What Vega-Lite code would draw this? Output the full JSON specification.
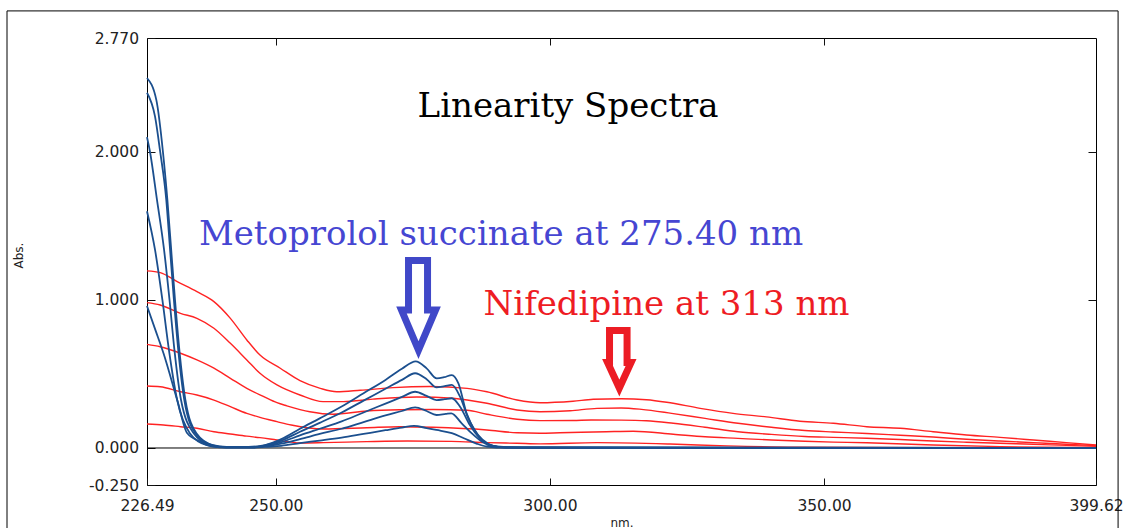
{
  "$schema": "https://vega.github.io/schema/vega-lite/v6.json",
  "width": 949,
  "height": 447,
  "autosize": {"type": "none"},
  "padding": {"left": 147, "top": 38, "right": 31, "bottom": 43},
  "background": "white",
  "config": {
    "view": {"stroke": "black", "strokeWidth": 1},
    "axis": {
      "grid": false,
      "domain": false,
      "labelFont": "DejaVu Sans",
      "labelFontSize": 15.5,
      "labelColor": "#222222",
      "tickColor": "#111111",
      "titleFont": "DejaVu Sans",
      "titleFontWeight": "normal",
      "titleColor": "#222222",
      "titleFontSize": 12
    }
  },
  "resolve": {"axis": {"x": "independent", "y": "independent"}},
  "datasets": {
    "spectra": [
      {"series":"R1","drug":"Nifedipine","nm":226.49,"abs":1.197},
      {"series":"R1","drug":"Nifedipine","nm":228.9,"abs":1.185},
      {"series":"R1","drug":"Nifedipine","nm":232.0,"abs":1.124},
      {"series":"R1","drug":"Nifedipine","nm":235.6,"abs":1.056},
      {"series":"R1","drug":"Nifedipine","nm":238.7,"abs":0.989},
      {"series":"R1","drug":"Nifedipine","nm":241.7,"abs":0.876},
      {"series":"R1","drug":"Nifedipine","nm":244.7,"abs":0.73},
      {"series":"R1","drug":"Nifedipine","nm":247.1,"abs":0.628},
      {"series":"R1","drug":"Nifedipine","nm":250.8,"abs":0.539},
      {"series":"R1","drug":"Nifedipine","nm":254.4,"abs":0.455},
      {"series":"R1","drug":"Nifedipine","nm":258.1,"abs":0.403},
      {"series":"R1","drug":"Nifedipine","nm":261.1,"abs":0.38},
      {"series":"R1","drug":"Nifedipine","nm":265.4,"abs":0.39},
      {"series":"R1","drug":"Nifedipine","nm":271.4,"abs":0.408},
      {"series":"R1","drug":"Nifedipine","nm":278.1,"abs":0.415},
      {"series":"R1","drug":"Nifedipine","nm":284.9,"abs":0.403},
      {"series":"R1","drug":"Nifedipine","nm":288.5,"abs":0.38},
      {"series":"R1","drug":"Nifedipine","nm":294.0,"abs":0.324},
      {"series":"R1","drug":"Nifedipine","nm":298.2,"abs":0.306},
      {"series":"R1","drug":"Nifedipine","nm":304.2,"abs":0.316},
      {"series":"R1","drug":"Nifedipine","nm":307.9,"abs":0.329},
      {"series":"R1","drug":"Nifedipine","nm":313.0,"abs":0.333},
      {"series":"R1","drug":"Nifedipine","nm":317.6,"abs":0.326},
      {"series":"R1","drug":"Nifedipine","nm":321.3,"abs":0.309},
      {"series":"R1","drug":"Nifedipine","nm":327.4,"abs":0.268},
      {"series":"R1","drug":"Nifedipine","nm":333.4,"abs":0.234},
      {"series":"R1","drug":"Nifedipine","nm":339.5,"abs":0.21},
      {"series":"R1","drug":"Nifedipine","nm":345.6,"abs":0.181},
      {"series":"R1","drug":"Nifedipine","nm":351.7,"abs":0.167},
      {"series":"R1","drug":"Nifedipine","nm":357.8,"abs":0.144},
      {"series":"R1","drug":"Nifedipine","nm":363.9,"abs":0.133},
      {"series":"R1","drug":"Nifedipine","nm":369.9,"abs":0.11},
      {"series":"R1","drug":"Nifedipine","nm":376.0,"abs":0.088},
      {"series":"R1","drug":"Nifedipine","nm":382.1,"abs":0.072},
      {"series":"R1","drug":"Nifedipine","nm":388.2,"abs":0.054},
      {"series":"R1","drug":"Nifedipine","nm":394.2,"abs":0.036},
      {"series":"R1","drug":"Nifedipine","nm":399.62,"abs":0.02},

      {"series":"R2","drug":"Nifedipine","nm":226.49,"abs":0.982},
      {"series":"R2","drug":"Nifedipine","nm":228.9,"abs":0.966},
      {"series":"R2","drug":"Nifedipine","nm":232.6,"abs":0.91},
      {"series":"R2","drug":"Nifedipine","nm":235.6,"abs":0.876},
      {"series":"R2","drug":"Nifedipine","nm":238.7,"abs":0.809},
      {"series":"R2","drug":"Nifedipine","nm":241.7,"abs":0.707},
      {"series":"R2","drug":"Nifedipine","nm":244.7,"abs":0.595},
      {"series":"R2","drug":"Nifedipine","nm":247.1,"abs":0.505},
      {"series":"R2","drug":"Nifedipine","nm":250.2,"abs":0.426},
      {"series":"R2","drug":"Nifedipine","nm":254.4,"abs":0.358},
      {"series":"R2","drug":"Nifedipine","nm":258.6,"abs":0.313},
      {"series":"R2","drug":"Nifedipine","nm":262.3,"abs":0.313},
      {"series":"R2","drug":"Nifedipine","nm":267.7,"abs":0.33},
      {"series":"R2","drug":"Nifedipine","nm":275.7,"abs":0.345},
      {"series":"R2","drug":"Nifedipine","nm":282.3,"abs":0.336},
      {"series":"R2","drug":"Nifedipine","nm":288.5,"abs":0.302},
      {"series":"R2","drug":"Nifedipine","nm":294.0,"abs":0.257},
      {"series":"R2","drug":"Nifedipine","nm":298.2,"abs":0.245},
      {"series":"R2","drug":"Nifedipine","nm":303.7,"abs":0.252},
      {"series":"R2","drug":"Nifedipine","nm":308.6,"abs":0.268},
      {"series":"R2","drug":"Nifedipine","nm":313.0,"abs":0.27},
      {"series":"R2","drug":"Nifedipine","nm":316.7,"abs":0.261},
      {"series":"R2","drug":"Nifedipine","nm":322.2,"abs":0.234},
      {"series":"R2","drug":"Nifedipine","nm":328.3,"abs":0.2},
      {"series":"R2","drug":"Nifedipine","nm":334.3,"abs":0.167},
      {"series":"R2","drug":"Nifedipine","nm":340.4,"abs":0.14},
      {"series":"R2","drug":"Nifedipine","nm":346.5,"abs":0.118},
      {"series":"R2","drug":"Nifedipine","nm":351.7,"abs":0.108},
      {"series":"R2","drug":"Nifedipine","nm":357.8,"abs":0.098},
      {"series":"R2","drug":"Nifedipine","nm":363.9,"abs":0.086},
      {"series":"R2","drug":"Nifedipine","nm":369.9,"abs":0.074},
      {"series":"R2","drug":"Nifedipine","nm":376.0,"abs":0.059},
      {"series":"R2","drug":"Nifedipine","nm":382.1,"abs":0.047},
      {"series":"R2","drug":"Nifedipine","nm":388.2,"abs":0.036},
      {"series":"R2","drug":"Nifedipine","nm":394.2,"abs":0.025},
      {"series":"R2","drug":"Nifedipine","nm":399.62,"abs":0.016},

      {"series":"R3","drug":"Nifedipine","nm":226.49,"abs":0.7},
      {"series":"R3","drug":"Nifedipine","nm":228.9,"abs":0.684},
      {"series":"R3","drug":"Nifedipine","nm":232.6,"abs":0.64},
      {"series":"R3","drug":"Nifedipine","nm":235.6,"abs":0.595},
      {"series":"R3","drug":"Nifedipine","nm":238.7,"abs":0.539},
      {"series":"R3","drug":"Nifedipine","nm":241.7,"abs":0.471},
      {"series":"R3","drug":"Nifedipine","nm":244.7,"abs":0.403},
      {"series":"R3","drug":"Nifedipine","nm":247.8,"abs":0.347},
      {"series":"R3","drug":"Nifedipine","nm":250.2,"abs":0.306},
      {"series":"R3","drug":"Nifedipine","nm":252.0,"abs":0.285},
      {"series":"R3","drug":"Nifedipine","nm":256.2,"abs":0.245},
      {"series":"R3","drug":"Nifedipine","nm":260.4,"abs":0.228},
      {"series":"R3","drug":"Nifedipine","nm":266.6,"abs":0.25},
      {"series":"R3","drug":"Nifedipine","nm":272.6,"abs":0.258},
      {"series":"R3","drug":"Nifedipine","nm":278.7,"abs":0.26},
      {"series":"R3","drug":"Nifedipine","nm":284.9,"abs":0.255},
      {"series":"R3","drug":"Nifedipine","nm":288.5,"abs":0.228},
      {"series":"R3","drug":"Nifedipine","nm":294.0,"abs":0.194},
      {"series":"R3","drug":"Nifedipine","nm":298.2,"abs":0.185},
      {"series":"R3","drug":"Nifedipine","nm":304.2,"abs":0.186},
      {"series":"R3","drug":"Nifedipine","nm":307.5,"abs":0.189},
      {"series":"R3","drug":"Nifedipine","nm":313.0,"abs":0.188},
      {"series":"R3","drug":"Nifedipine","nm":317.6,"abs":0.184},
      {"series":"R3","drug":"Nifedipine","nm":322.5,"abs":0.167},
      {"series":"R3","drug":"Nifedipine","nm":328.3,"abs":0.14},
      {"series":"R3","drug":"Nifedipine","nm":334.3,"abs":0.11},
      {"series":"R3","drug":"Nifedipine","nm":340.4,"abs":0.092},
      {"series":"R3","drug":"Nifedipine","nm":346.5,"abs":0.078},
      {"series":"R3","drug":"Nifedipine","nm":351.7,"abs":0.072},
      {"series":"R3","drug":"Nifedipine","nm":357.8,"abs":0.066},
      {"series":"R3","drug":"Nifedipine","nm":363.9,"abs":0.057},
      {"series":"R3","drug":"Nifedipine","nm":369.9,"abs":0.047},
      {"series":"R3","drug":"Nifedipine","nm":376.0,"abs":0.039},
      {"series":"R3","drug":"Nifedipine","nm":382.1,"abs":0.032},
      {"series":"R3","drug":"Nifedipine","nm":388.2,"abs":0.025},
      {"series":"R3","drug":"Nifedipine","nm":394.2,"abs":0.018},
      {"series":"R3","drug":"Nifedipine","nm":399.62,"abs":0.011},

      {"series":"R4","drug":"Nifedipine","nm":226.49,"abs":0.419},
      {"series":"R4","drug":"Nifedipine","nm":228.9,"abs":0.414},
      {"series":"R4","drug":"Nifedipine","nm":232.6,"abs":0.38},
      {"series":"R4","drug":"Nifedipine","nm":235.6,"abs":0.358},
      {"series":"R4","drug":"Nifedipine","nm":238.7,"abs":0.324},
      {"series":"R4","drug":"Nifedipine","nm":241.7,"abs":0.279},
      {"series":"R4","drug":"Nifedipine","nm":244.7,"abs":0.234},
      {"series":"R4","drug":"Nifedipine","nm":247.1,"abs":0.207},
      {"series":"R4","drug":"Nifedipine","nm":250.2,"abs":0.178},
      {"series":"R4","drug":"Nifedipine","nm":252.8,"abs":0.155},
      {"series":"R4","drug":"Nifedipine","nm":258.6,"abs":0.128},
      {"series":"R4","drug":"Nifedipine","nm":266.6,"abs":0.137},
      {"series":"R4","drug":"Nifedipine","nm":272.6,"abs":0.144},
      {"series":"R4","drug":"Nifedipine","nm":278.7,"abs":0.14},
      {"series":"R4","drug":"Nifedipine","nm":288.5,"abs":0.122},
      {"series":"R4","drug":"Nifedipine","nm":294.0,"abs":0.103},
      {"series":"R4","drug":"Nifedipine","nm":298.2,"abs":0.1},
      {"series":"R4","drug":"Nifedipine","nm":301.8,"abs":0.103},
      {"series":"R4","drug":"Nifedipine","nm":310.3,"abs":0.11},
      {"series":"R4","drug":"Nifedipine","nm":315.2,"abs":0.113},
      {"series":"R4","drug":"Nifedipine","nm":322.5,"abs":0.093},
      {"series":"R4","drug":"Nifedipine","nm":328.3,"abs":0.076},
      {"series":"R4","drug":"Nifedipine","nm":334.3,"abs":0.065},
      {"series":"R4","drug":"Nifedipine","nm":340.4,"abs":0.054},
      {"series":"R4","drug":"Nifedipine","nm":346.5,"abs":0.046},
      {"series":"R4","drug":"Nifedipine","nm":351.7,"abs":0.04},
      {"series":"R4","drug":"Nifedipine","nm":357.8,"abs":0.035},
      {"series":"R4","drug":"Nifedipine","nm":369.9,"abs":0.02},
      {"series":"R4","drug":"Nifedipine","nm":382.1,"abs":0.009},
      {"series":"R4","drug":"Nifedipine","nm":399.62,"abs":0.002},

      {"series":"R5","drug":"Nifedipine","nm":226.49,"abs":0.162},
      {"series":"R5","drug":"Nifedipine","nm":229.5,"abs":0.155},
      {"series":"R5","drug":"Nifedipine","nm":232.6,"abs":0.144},
      {"series":"R5","drug":"Nifedipine","nm":235.6,"abs":0.133},
      {"series":"R5","drug":"Nifedipine","nm":238.7,"abs":0.11},
      {"series":"R5","drug":"Nifedipine","nm":241.7,"abs":0.095},
      {"series":"R5","drug":"Nifedipine","nm":244.7,"abs":0.08},
      {"series":"R5","drug":"Nifedipine","nm":247.1,"abs":0.07},
      {"series":"R5","drug":"Nifedipine","nm":250.2,"abs":0.054},
      {"series":"R5","drug":"Nifedipine","nm":254.4,"abs":0.034},
      {"series":"R5","drug":"Nifedipine","nm":258.6,"abs":0.036},
      {"series":"R5","drug":"Nifedipine","nm":266.6,"abs":0.043},
      {"series":"R5","drug":"Nifedipine","nm":274.0,"abs":0.047},
      {"series":"R5","drug":"Nifedipine","nm":282.0,"abs":0.045},
      {"series":"R5","drug":"Nifedipine","nm":288.5,"abs":0.036},
      {"series":"R5","drug":"Nifedipine","nm":294.0,"abs":0.032},
      {"series":"R5","drug":"Nifedipine","nm":298.2,"abs":0.028},
      {"series":"R5","drug":"Nifedipine","nm":308.6,"abs":0.036},
      {"series":"R5","drug":"Nifedipine","nm":321.9,"abs":0.027},
      {"series":"R5","drug":"Nifedipine","nm":332.3,"abs":0.014},
      {"series":"R5","drug":"Nifedipine","nm":345.0,"abs":0.005},
      {"series":"R5","drug":"Nifedipine","nm":360.0,"abs":0.003},
      {"series":"R5","drug":"Nifedipine","nm":380.0,"abs":0.001},
      {"series":"R5","drug":"Nifedipine","nm":399.62,"abs":0.0},

      {"series":"B1","drug":"Metoprolol","nm":226.49,"abs":2.5},
      {"series":"B1","drug":"Metoprolol","nm":228.2,"abs":2.35},
      {"series":"B1","drug":"Metoprolol","nm":229.4,"abs":2.0},
      {"series":"B1","drug":"Metoprolol","nm":230.2,"abs":1.68},
      {"series":"B1","drug":"Metoprolol","nm":230.9,"abs":1.34},
      {"series":"B1","drug":"Metoprolol","nm":231.6,"abs":1.0},
      {"series":"B1","drug":"Metoprolol","nm":232.4,"abs":0.66},
      {"series":"B1","drug":"Metoprolol","nm":233.5,"abs":0.324},
      {"series":"B1","drug":"Metoprolol","nm":235.5,"abs":0.1},
      {"series":"B1","drug":"Metoprolol","nm":238.5,"abs":0.02},
      {"series":"B1","drug":"Metoprolol","nm":241.0,"abs":0.008},
      {"series":"B1","drug":"Metoprolol","nm":245.0,"abs":0.008},
      {"series":"B1","drug":"Metoprolol","nm":248.0,"abs":0.02},
      {"series":"B1","drug":"Metoprolol","nm":251.0,"abs":0.06},
      {"series":"B1","drug":"Metoprolol","nm":254.4,"abs":0.13},
      {"series":"B1","drug":"Metoprolol","nm":258.0,"abs":0.2},
      {"series":"B1","drug":"Metoprolol","nm":262.0,"abs":0.28},
      {"series":"B1","drug":"Metoprolol","nm":266.0,"abs":0.37},
      {"series":"B1","drug":"Metoprolol","nm":270.0,"abs":0.46},
      {"series":"B1","drug":"Metoprolol","nm":273.0,"abs":0.535},
      {"series":"B1","drug":"Metoprolol","nm":275.5,"abs":0.585},
      {"series":"B1","drug":"Metoprolol","nm":277.5,"abs":0.538},
      {"series":"B1","drug":"Metoprolol","nm":279.35,"abs":0.47},
      {"series":"B1","drug":"Metoprolol","nm":280.7,"abs":0.478},
      {"series":"B1","drug":"Metoprolol","nm":282.1,"abs":0.493},
      {"series":"B1","drug":"Metoprolol","nm":283.3,"abs":0.437},
      {"series":"B1","drug":"Metoprolol","nm":284.8,"abs":0.234},
      {"series":"B1","drug":"Metoprolol","nm":286.6,"abs":0.1},
      {"series":"B1","drug":"Metoprolol","nm":288.5,"abs":0.03},
      {"series":"B1","drug":"Metoprolol","nm":290.3,"abs":0.01},
      {"series":"B1","drug":"Metoprolol","nm":295.0,"abs":0.003},
      {"series":"B1","drug":"Metoprolol","nm":399.62,"abs":0.0},

      {"series":"B2","drug":"Metoprolol","nm":226.49,"abs":2.4},
      {"series":"B2","drug":"Metoprolol","nm":227.95,"abs":2.24},
      {"series":"B2","drug":"Metoprolol","nm":228.9,"abs":2.0},
      {"series":"B2","drug":"Metoprolol","nm":230.0,"abs":1.68},
      {"series":"B2","drug":"Metoprolol","nm":230.7,"abs":1.34},
      {"series":"B2","drug":"Metoprolol","nm":231.4,"abs":1.0},
      {"series":"B2","drug":"Metoprolol","nm":232.2,"abs":0.66},
      {"series":"B2","drug":"Metoprolol","nm":233.3,"abs":0.324},
      {"series":"B2","drug":"Metoprolol","nm":235.3,"abs":0.1},
      {"series":"B2","drug":"Metoprolol","nm":238.3,"abs":0.02},
      {"series":"B2","drug":"Metoprolol","nm":241.0,"abs":0.006},
      {"series":"B2","drug":"Metoprolol","nm":246.0,"abs":0.006},
      {"series":"B2","drug":"Metoprolol","nm":248.0,"abs":0.018},
      {"series":"B2","drug":"Metoprolol","nm":251.0,"abs":0.05},
      {"series":"B2","drug":"Metoprolol","nm":254.4,"abs":0.11},
      {"series":"B2","drug":"Metoprolol","nm":258.0,"abs":0.17},
      {"series":"B2","drug":"Metoprolol","nm":262.0,"abs":0.24},
      {"series":"B2","drug":"Metoprolol","nm":266.0,"abs":0.32},
      {"series":"B2","drug":"Metoprolol","nm":270.0,"abs":0.4},
      {"series":"B2","drug":"Metoprolol","nm":273.0,"abs":0.46},
      {"series":"B2","drug":"Metoprolol","nm":275.4,"abs":0.505},
      {"series":"B2","drug":"Metoprolol","nm":277.5,"abs":0.465},
      {"series":"B2","drug":"Metoprolol","nm":279.3,"abs":0.41},
      {"series":"B2","drug":"Metoprolol","nm":280.8,"abs":0.418},
      {"series":"B2","drug":"Metoprolol","nm":282.1,"abs":0.426},
      {"series":"B2","drug":"Metoprolol","nm":283.6,"abs":0.347},
      {"series":"B2","drug":"Metoprolol","nm":285.1,"abs":0.2},
      {"series":"B2","drug":"Metoprolol","nm":286.9,"abs":0.088},
      {"series":"B2","drug":"Metoprolol","nm":288.8,"abs":0.027},
      {"series":"B2","drug":"Metoprolol","nm":290.5,"abs":0.008},
      {"series":"B2","drug":"Metoprolol","nm":295.0,"abs":0.002},
      {"series":"B2","drug":"Metoprolol","nm":399.62,"abs":0.0},

      {"series":"B3","drug":"Metoprolol","nm":226.49,"abs":2.1},
      {"series":"B3","drug":"Metoprolol","nm":227.04,"abs":2.0},
      {"series":"B3","drug":"Metoprolol","nm":228.3,"abs":1.68},
      {"series":"B3","drug":"Metoprolol","nm":229.6,"abs":1.34},
      {"series":"B3","drug":"Metoprolol","nm":230.6,"abs":1.0},
      {"series":"B3","drug":"Metoprolol","nm":231.5,"abs":0.66},
      {"series":"B3","drug":"Metoprolol","nm":232.7,"abs":0.324},
      {"series":"B3","drug":"Metoprolol","nm":235.0,"abs":0.1},
      {"series":"B3","drug":"Metoprolol","nm":238.0,"abs":0.02},
      {"series":"B3","drug":"Metoprolol","nm":241.0,"abs":0.005},
      {"series":"B3","drug":"Metoprolol","nm":246.0,"abs":0.005},
      {"series":"B3","drug":"Metoprolol","nm":248.0,"abs":0.015},
      {"series":"B3","drug":"Metoprolol","nm":251.0,"abs":0.04},
      {"series":"B3","drug":"Metoprolol","nm":254.4,"abs":0.085},
      {"series":"B3","drug":"Metoprolol","nm":258.0,"abs":0.13},
      {"series":"B3","drug":"Metoprolol","nm":262.0,"abs":0.18},
      {"series":"B3","drug":"Metoprolol","nm":266.0,"abs":0.24},
      {"series":"B3","drug":"Metoprolol","nm":270.0,"abs":0.3},
      {"series":"B3","drug":"Metoprolol","nm":273.0,"abs":0.345},
      {"series":"B3","drug":"Metoprolol","nm":275.4,"abs":0.38},
      {"series":"B3","drug":"Metoprolol","nm":277.5,"abs":0.352},
      {"series":"B3","drug":"Metoprolol","nm":279.3,"abs":0.324},
      {"series":"B3","drug":"Metoprolol","nm":280.8,"abs":0.33},
      {"series":"B3","drug":"Metoprolol","nm":282.1,"abs":0.336},
      {"series":"B3","drug":"Metoprolol","nm":283.6,"abs":0.279},
      {"series":"B3","drug":"Metoprolol","nm":285.4,"abs":0.155},
      {"series":"B3","drug":"Metoprolol","nm":287.2,"abs":0.066},
      {"series":"B3","drug":"Metoprolol","nm":289.1,"abs":0.02},
      {"series":"B3","drug":"Metoprolol","nm":292.0,"abs":0.005},
      {"series":"B3","drug":"Metoprolol","nm":399.62,"abs":0.0},

      {"series":"B4","drug":"Metoprolol","nm":226.49,"abs":1.6},
      {"series":"B4","drug":"Metoprolol","nm":227.95,"abs":1.34},
      {"series":"B4","drug":"Metoprolol","nm":229.3,"abs":1.0},
      {"series":"B4","drug":"Metoprolol","nm":230.5,"abs":0.66},
      {"series":"B4","drug":"Metoprolol","nm":232.0,"abs":0.324},
      {"series":"B4","drug":"Metoprolol","nm":234.3,"abs":0.1},
      {"series":"B4","drug":"Metoprolol","nm":237.4,"abs":0.02},
      {"series":"B4","drug":"Metoprolol","nm":241.0,"abs":0.004},
      {"series":"B4","drug":"Metoprolol","nm":246.0,"abs":0.004},
      {"series":"B4","drug":"Metoprolol","nm":248.0,"abs":0.012},
      {"series":"B4","drug":"Metoprolol","nm":251.0,"abs":0.03},
      {"series":"B4","drug":"Metoprolol","nm":254.4,"abs":0.06},
      {"series":"B4","drug":"Metoprolol","nm":258.0,"abs":0.095},
      {"series":"B4","drug":"Metoprolol","nm":262.0,"abs":0.13},
      {"series":"B4","drug":"Metoprolol","nm":266.0,"abs":0.175},
      {"series":"B4","drug":"Metoprolol","nm":270.0,"abs":0.22},
      {"series":"B4","drug":"Metoprolol","nm":273.0,"abs":0.25},
      {"series":"B4","drug":"Metoprolol","nm":275.4,"abs":0.275},
      {"series":"B4","drug":"Metoprolol","nm":277.5,"abs":0.25},
      {"series":"B4","drug":"Metoprolol","nm":279.3,"abs":0.223},
      {"series":"B4","drug":"Metoprolol","nm":281.0,"abs":0.23},
      {"series":"B4","drug":"Metoprolol","nm":282.0,"abs":0.234},
      {"series":"B4","drug":"Metoprolol","nm":283.9,"abs":0.167},
      {"series":"B4","drug":"Metoprolol","nm":285.7,"abs":0.1},
      {"series":"B4","drug":"Metoprolol","nm":287.6,"abs":0.043},
      {"series":"B4","drug":"Metoprolol","nm":289.5,"abs":0.012},
      {"series":"B4","drug":"Metoprolol","nm":292.0,"abs":0.003},
      {"series":"B4","drug":"Metoprolol","nm":399.62,"abs":0.0},

      {"series":"B5","drug":"Metoprolol","nm":226.49,"abs":0.96},
      {"series":"B5","drug":"Metoprolol","nm":228.0,"abs":0.8},
      {"series":"B5","drug":"Metoprolol","nm":229.5,"abs":0.64},
      {"series":"B5","drug":"Metoprolol","nm":232.0,"abs":0.324},
      {"series":"B5","drug":"Metoprolol","nm":233.8,"abs":0.101},
      {"series":"B5","drug":"Metoprolol","nm":236.2,"abs":0.043},
      {"series":"B5","drug":"Metoprolol","nm":238.5,"abs":0.01},
      {"series":"B5","drug":"Metoprolol","nm":241.0,"abs":0.003},
      {"series":"B5","drug":"Metoprolol","nm":246.0,"abs":0.003},
      {"series":"B5","drug":"Metoprolol","nm":248.0,"abs":0.008},
      {"series":"B5","drug":"Metoprolol","nm":251.0,"abs":0.015},
      {"series":"B5","drug":"Metoprolol","nm":254.4,"abs":0.033},
      {"series":"B5","drug":"Metoprolol","nm":258.0,"abs":0.05},
      {"series":"B5","drug":"Metoprolol","nm":262.0,"abs":0.07},
      {"series":"B5","drug":"Metoprolol","nm":266.0,"abs":0.095},
      {"series":"B5","drug":"Metoprolol","nm":270.0,"abs":0.12},
      {"series":"B5","drug":"Metoprolol","nm":273.0,"abs":0.138},
      {"series":"B5","drug":"Metoprolol","nm":275.2,"abs":0.149},
      {"series":"B5","drug":"Metoprolol","nm":277.5,"abs":0.135},
      {"series":"B5","drug":"Metoprolol","nm":279.3,"abs":0.122},
      {"series":"B5","drug":"Metoprolol","nm":282.1,"abs":0.1},
      {"series":"B5","drug":"Metoprolol","nm":284.3,"abs":0.066},
      {"series":"B5","drug":"Metoprolol","nm":286.6,"abs":0.03},
      {"series":"B5","drug":"Metoprolol","nm":288.5,"abs":0.01},
      {"series":"B5","drug":"Metoprolol","nm":292.0,"abs":0.002},
      {"series":"B5","drug":"Metoprolol","nm":399.62,"abs":0.0}
    ],
    "arrows": [
      {"arrow":"blue","i":0,"nm":274.2,"abs":1.267},
      {"arrow":"blue","i":1,"nm":277.67,"abs":1.267},
      {"arrow":"blue","i":2,"nm":277.67,"abs":0.932},
      {"arrow":"blue","i":3,"nm":279.13,"abs":0.932},
      {"arrow":"blue","i":4,"nm":276.02,"abs":0.662},
      {"arrow":"blue","i":5,"nm":272.92,"abs":0.932},
      {"arrow":"blue","i":6,"nm":274.2,"abs":0.932},
      {"arrow":"red","i":0,"nm":310.87,"abs":0.794},
      {"arrow":"red","i":1,"nm":314.07,"abs":0.794},
      {"arrow":"red","i":2,"nm":314.07,"abs":0.578},
      {"arrow":"red","i":3,"nm":314.8,"abs":0.578},
      {"arrow":"red","i":4,"nm":312.66,"abs":0.405},
      {"arrow":"red","i":5,"nm":310.51,"abs":0.578},
      {"arrow":"red","i":6,"nm":310.87,"abs":0.578}
    ]
  },
  "layer": [
    {
      "data": {"values": [
        {"x1":200.95,"x2":200.95,"y1":2.953,"y2":-0.65},
        {"x1":200.95,"x2":403.65,"y1":2.953,"y2":2.953},
        {"x1":403.65,"x2":403.65,"y1":2.953,"y2":-0.65}
      ]},
      "mark": {"type": "rule", "color": "black", "strokeWidth": 1},
      "encoding": {
        "x": {"field": "x1", "type": "quantitative", "axis": null},
        "x2": {"field": "x2"},
        "y": {"field": "y1", "type": "quantitative", "axis": null},
        "y2": {"field": "y2"}
      }
    },
    {
      "data": {"values": [{"abs": 0}]},
      "mark": {"type": "rule", "color": "black", "strokeWidth": 1},
      "encoding": {
        "y": {"field": "abs", "type": "quantitative", "axis": null}
      }
    },
    {
      "data": {"name": "spectra"},
      "transform": [{"filter": "datum.drug === 'Nifedipine'"}],
      "mark": {"type": "line", "color": "#ff2323", "strokeWidth": 1.4, "interpolate": "monotone"},
      "encoding": {
        "x": {
          "field": "nm", "type": "quantitative",
          "scale": {"domain": [226.49, 399.62], "nice": false, "zero": false},
          "axis": {
            "orient": "bottom", "values": [226.49, 250, 300, 350, 399.62], "format": ".2f",
            "tickSize": -7, "labelPadding": 20, "labelFlush": false, "labelOverlap": false, "labelBound": false,
            "title": "nm.", "titleY": 37, "titleBaseline": "middle"
          }
        },
        "y": {
          "field": "abs", "type": "quantitative",
          "scale": {"domain": [-0.25, 2.77], "nice": false, "zero": false},
          "axis": {
            "orient": "left", "values": [-0.25, 0, 1, 2, 2.77], "format": ".3f",
            "labelExpr": "replace(datum.label, '\u2212', '-')",
            "tickSize": -8, "labelPadding": 16.5, "labelOverlap": false, "labelFlush": false,
            "title": "Abs.", "titleX": -129, "titleY": 217, "titleBaseline": "middle"
          }
        },
        "detail": {"field": "series"}
      }
    },
    {
      "data": {"name": "spectra"},
      "transform": [{"filter": "datum.drug === 'Metoprolol'"}],
      "mark": {"type": "line", "color": "#1b4f8e", "strokeWidth": 1.8, "interpolate": "monotone"},
      "encoding": {
        "x": {
          "field": "nm", "type": "quantitative",
          "scale": {"domain": [226.49, 399.62], "nice": false, "zero": false},
          "axis": {"orient": "top", "values": [250, 300, 350], "labels": false, "tickSize": -7, "title": null}
        },
        "y": {
          "field": "abs", "type": "quantitative",
          "scale": {"domain": [-0.25, 2.77], "nice": false, "zero": false},
          "axis": {"orient": "right", "values": [0, 1, 2], "labels": false, "tickSize": -8, "title": null}
        },
        "detail": {"field": "series"}
      }
    },
    {
      "data": {"name": "arrows"},
      "transform": [{"filter": "datum.arrow === 'blue'"}],
      "mark": {"type": "line", "color": "#4048c8", "strokeWidth": 7, "interpolate": "linear-closed", "strokeJoin": "miter"},
      "encoding": {
        "x": {"field": "nm", "type": "quantitative", "axis": null},
        "y": {"field": "abs", "type": "quantitative", "axis": null},
        "order": {"field": "i"}
      }
    },
    {
      "data": {"name": "arrows"},
      "transform": [{"filter": "datum.arrow === 'red'"}],
      "mark": {"type": "line", "color": "#ec1c24", "strokeWidth": 7, "interpolate": "linear-closed", "strokeJoin": "miter"},
      "encoding": {
        "x": {"field": "nm", "type": "quantitative", "axis": null},
        "y": {"field": "abs", "type": "quantitative", "axis": null},
        "order": {"field": "i"}
      }
    },
    {
      "data": {"values": [{"label": "Linearity Spectra", "nm": 303.3, "abs": 2.236}]},
      "mark": {"type": "text", "font": "DejaVu Serif", "fontSize": 34, "color": "black", "align": "center", "baseline": "alphabetic"},
      "encoding": {
        "x": {"field": "nm", "type": "quantitative", "axis": null},
        "y": {"field": "abs", "type": "quantitative", "axis": null},
        "text": {"field": "label"}
      }
    },
    {
      "data": {"values": [{"label": "Metoprolol succinate at 275.40 nm", "nm": 291.08, "abs": 1.372}]},
      "mark": {"type": "text", "font": "DejaVu Serif", "fontSize": 34, "color": "#4646d2", "align": "center", "baseline": "alphabetic"},
      "encoding": {
        "x": {"field": "nm", "type": "quantitative", "axis": null},
        "y": {"field": "abs", "type": "quantitative", "axis": null},
        "text": {"field": "label"}
      }
    },
    {
      "data": {"values": [{"label": "Nifedipine at 313 nm", "nm": 321.27, "abs": 0.899}]},
      "mark": {"type": "text", "font": "DejaVu Serif", "fontSize": 34, "color": "#ee1c24", "align": "center", "baseline": "alphabetic"},
      "encoding": {
        "x": {"field": "nm", "type": "quantitative", "axis": null},
        "y": {"field": "abs", "type": "quantitative", "axis": null},
        "text": {"field": "label"}
      }
    }
  ]
}
